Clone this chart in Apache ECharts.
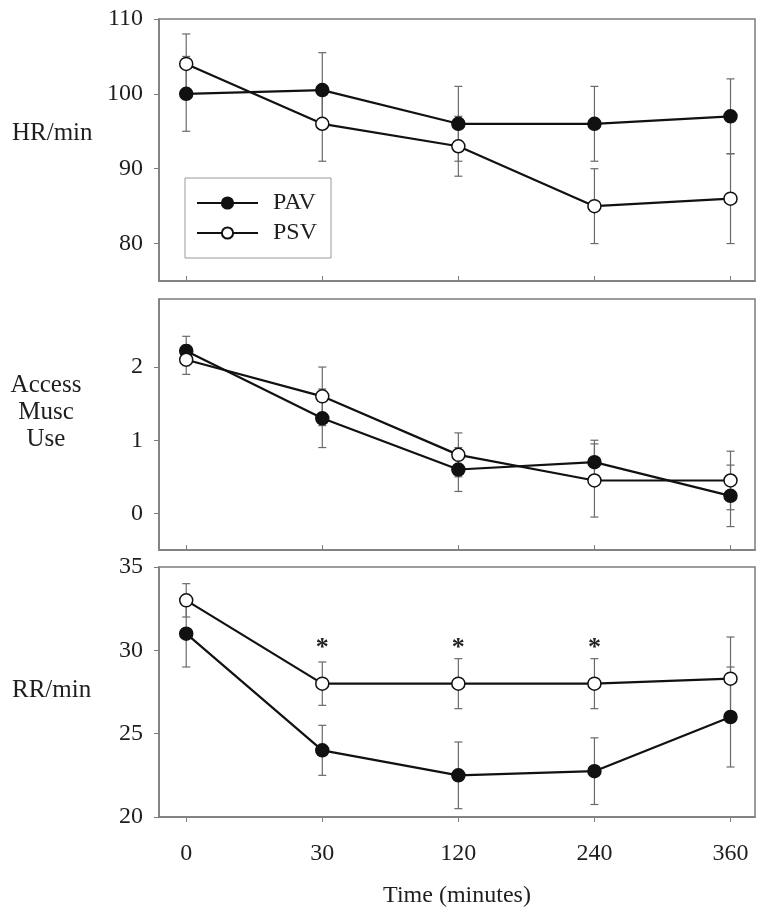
<!DOCTYPE html>
<html><head><meta charset="utf-8">
<script src="https://cdn.jsdelivr.net/npm/echarts@6/dist/echarts.min.js"></script>
<style>html,body{margin:0;padding:0;background:#fff}#c{width:757px;height:908px}</style>
</head><body><div id="c"></div>
<script>
// ---- data ----
const timeLabels = ['0', '30', '120', '240', '360'];
const hrPAV = [100, 100.5, 96, 96, 97];
const hrPAVErr = [5, 5, 5, 5, 5];
const hrPSV = [104, 96, 93, 85, 86];
const hrPSVErr = [4, 5, 4, 5, 6];
const amPAV = [2.22, 1.3, 0.6, 0.7, 0.24];
const amPAVErr = [0.2, 0.4, 0.3, 0.3, 0.42];
const amPSV = [2.1, 1.6, 0.8, 0.45, 0.45];
const amPSVErr = [0.2, 0.4, 0.3, 0.5, 0.4];
const rrPAV = [31, 24, 22.5, 22.75, 26];
const rrPAVErr = [2, 1.5, 2, 2, 3];
const rrPSV = [33, 28, 28, 28, 28.3];
const rrPSVErr = [1, 1.3, 1.5, 1.5, 2.5];
const sigIdx = [1, 2, 3];
const sigLevel = 30.1;
const hrTicks = [80, 90, 100, 110];
const amTicks = [0, 1, 2];
const rrTicks = [20, 25, 30, 35];

// ---- styling ----
const FONT = '"Liberation Serif", "DejaVu Serif", serif';
const TXT = '#1e1e1e';
const AX = '#7c7c7c';
const FS = 24;
const chart = echarts.init(document.getElementById('c'));
const idx = timeLabels.map((_, i) => i);

const grids = [
  {left: 159, right: 2, top: 19, height: 262},
  {left: 159, right: 2, top: 299, height: 251},
  {left: 159, right: 2, top: 567, height: 250}
].map(g => Object.assign(g, {show: true, borderColor: AX, borderWidth: 1.5,
  containLabel: false, outerBoundsMode: 'none'}));

function xAx(gi, last) {
  return {
    type: 'value', gridIndex: gi, min: -0.2, max: 4.18,
    splitLine: {show: false},
    axisLine: {show: true, onZero: false, lineStyle: {color: AX, width: 1.5}},
    axisTick: {show: true, inside: !last, length: 5, customValues: idx, lineStyle: {color: AX}},
    axisLabel: {show: last, customValues: idx, formatter: v => timeLabels[Math.round(v)],
      fontFamily: FONT, fontSize: FS, color: TXT, margin: 25},
    name: last ? 'Time (minutes)' : '', nameLocation: 'middle', nameGap: 67,
    nameTextStyle: {fontFamily: FONT, fontSize: FS, color: TXT}
  };
}
function yAx(gi, min, max, ticks) {
  return {
    type: 'value', gridIndex: gi, min: min, max: max,
    splitLine: {show: false},
    axisLine: {show: true, onZero: false, lineStyle: {color: AX, width: 1.5}},
    axisTick: {show: true, length: 5, customValues: ticks, lineStyle: {color: AX}},
    axisLabel: {customValues: ticks, fontFamily: FONT, fontSize: FS, color: TXT, margin: 16}
  };
}

function errRender(params, api) {
  const i = api.value(0), v = api.value(1), e = api.value(2);
  const t = api.coord([i, v + e]), b = api.coord([i, v - e]);
  const st = {stroke: '#6a6a6a', lineWidth: 1.2};
  return {type: 'group', children: [
    {type: 'line', shape: {x1: t[0], y1: t[1], x2: b[0], y2: b[1]}, style: st},
    {type: 'line', shape: {x1: t[0] - 4, y1: t[1], x2: t[0] + 4, y2: t[1]}, style: st},
    {type: 'line', shape: {x1: b[0] - 4, y1: b[1], x2: b[0] + 4, y2: b[1]}, style: st}
  ]};
}
function errSeries(gi, vals, errs) {
  return {type: 'custom', xAxisIndex: gi, yAxisIndex: gi, z: 1, silent: true,
    renderItem: errRender, encode: {x: 0, y: 1},
    data: vals.map((v, i) => [i, v, errs[i]])};
}
function lineSeries(gi, name, vals, filled) {
  return {type: 'line', name: name, xAxisIndex: gi, yAxisIndex: gi, z: 3,
    data: vals.map((v, i) => [i, v]),
    symbol: 'circle', symbolSize: 13, showSymbol: true,
    lineStyle: {color: '#111', width: 2.2},
    itemStyle: {color: filled ? '#111' : '#fff', borderColor: '#111', borderWidth: 1.5},
    emphasis: {disabled: true}, animation: false};
}

const series = [
  errSeries(0, hrPAV, hrPAVErr), errSeries(0, hrPSV, hrPSVErr),
  lineSeries(0, 'PAV', hrPAV, true), lineSeries(0, 'PSV', hrPSV, false),
  errSeries(1, amPAV, amPAVErr), errSeries(1, amPSV, amPSVErr),
  lineSeries(1, 'PAV', amPAV, true), lineSeries(1, 'PSV', amPSV, false),
  errSeries(2, rrPAV, rrPAVErr), errSeries(2, rrPSV, rrPSVErr),
  lineSeries(2, 'PAV', rrPAV, true), lineSeries(2, 'PSV', rrPSV, false),
  {type: 'custom', xAxisIndex: 2, yAxisIndex: 2, z: 4, silent: true, encode: {x: 0, y: 1},
    data: sigIdx.map(i => [i, sigLevel]),
    renderItem: (p, api) => {
      const c = api.coord([api.value(0), api.value(1)]);
      return {type: 'text', style: {text: '*', x: c[0], y: c[1], font: 'bold 26px ' + FONT,
        fill: '#222', align: 'center', verticalAlign: 'middle'}};
    }}
];

chart.setOption({
  animation: false,
  grid: grids,
  xAxis: [xAx(0, false), xAx(1, false), xAx(2, true)],
  yAxis: [yAx(0, 75, 110, hrTicks), yAx(1, -0.5, 2.93, amTicks), yAx(2, 20, 35, rrTicks)],
  legend: {
    data: ['PAV', 'PSV'], orient: 'vertical', left: 185, top: 178,
    itemWidth: 61, itemHeight: 14, itemGap: 6,
    padding: [13, 14, 13, 11],
    borderColor: '#999', borderWidth: 1,
    selectedMode: false,
    textStyle: {fontFamily: FONT, fontSize: FS, color: TXT, lineHeight: 24, padding: [0, 0, 0, 10]}
  },
  graphic: [
    {type: 'text', left: 12, top: 121, style: {text: 'HR/min', font: '25px ' + FONT, fill: TXT}},
    {type: 'text', x: 46, y: 372, style: {text: 'Access\nMusc\nUse', font: '25px ' + FONT, fill: TXT,
      align: 'center', verticalAlign: 'top', lineHeight: 27}},
    {type: 'text', left: 12, top: 678, style: {text: 'RR/min', font: '25px ' + FONT, fill: TXT}}
  ],
  series: series
});
</script></body></html>
